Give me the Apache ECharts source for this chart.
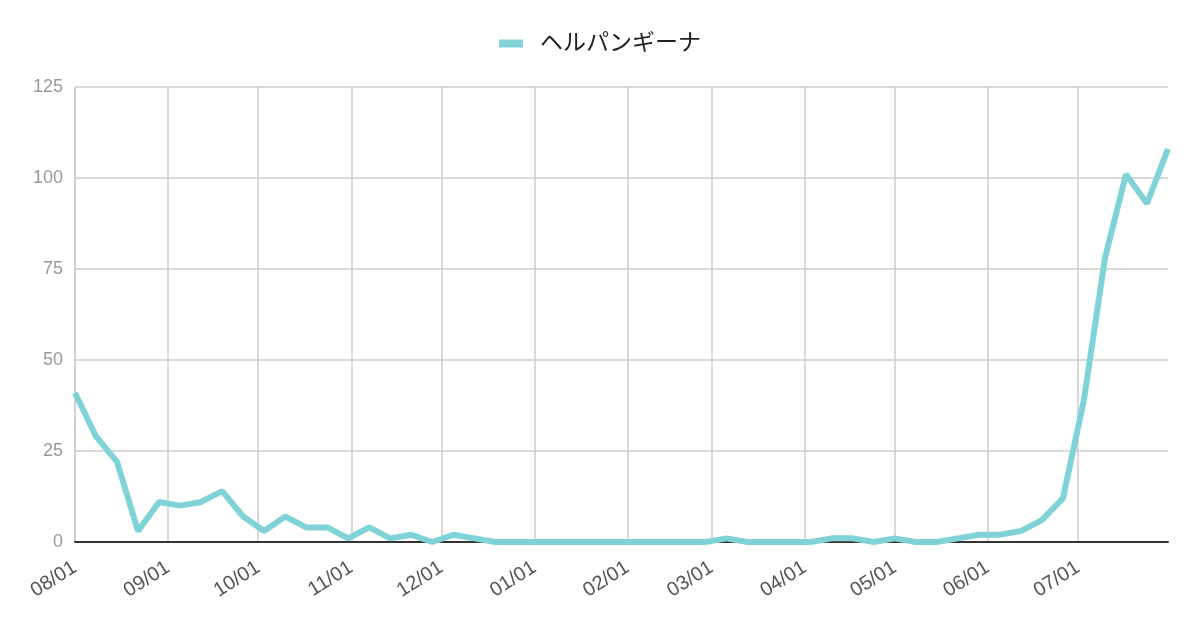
<!DOCTYPE html>
<html>
<head>
<meta charset="utf-8">
<script src="https://cdn.jsdelivr.net/npm/echarts@6/dist/echarts.min.js"></script>
<style>
  html, body { margin: 0; padding: 0; background: #fff; }
  #chart { width: 1200px; height: 626px; }
</style>
</head>
<body>
<div id="chart"></div>
<script>
// Données hebdomadaires (une valeur par semaine à partir du 01/08)
const seriesName = 'ヘルパンギーナ';
const startDate = '2022-08-01';
const weekly = [
  41, 29, 22, 3, 11, 10, 11, 14, 7, 3,
  7, 4, 4, 1, 4, 1, 2, 0, 2, 1,
  0, 0, 0, 0, 0, 0, 0, 0, 0, 0,
  0, 1, 0, 0, 0, 0, 1, 1, 0, 1,
  0, 0, 1, 2, 2, 3, 6, 12, 39, 78,
  101, 93, 108
];
const yTicks = [0, 25, 50, 75, 100, 125];

const DAY = 86400000;
const t0 = new Date(startDate + 'T00:00:00').getTime();
const points = weekly.map((v, i) => [t0 + i * 7 * DAY, v]);

const font = '"Liberation Sans", "Noto Sans CJK JP", sans-serif';
const chart = echarts.init(document.getElementById('chart'), null, { renderer: 'canvas' });

const option = {
  animation: false,
  legend: {
    top: 27,
    left: 'center',
    itemWidth: 24,
    itemHeight: 8,
    icon: 'rect',
    itemGap: 10,
    textStyle: { fontSize: 23, color: '#222', fontFamily: font, padding: [0, 0, 0, 12] },
    data: [seriesName]
  },
  grid: { left: 75, right: 32, top: 87, bottom: 84 },
  xAxis: {
    type: 'time',
    min: t0,
    max: points[points.length - 1][0],
    minInterval: 28 * DAY,
    maxInterval: 31 * DAY,
    axisLine: { lineStyle: { color: '#333', width: 2 } },
    axisTick: { show: false },
    splitLine: { show: true, showMaxLine: false, lineStyle: { color: '#ccc', width: 1.5 } },
    axisLabel: {
      rotate: 32,
      margin: 24,
      fontSize: 20,
      color: '#555',
      fontFamily: font,
      showMaxLabel: false,
      formatter: v => echarts.time.format(v, '{MM}/{dd}', false)
    }
  },
  yAxis: {
    type: 'value',
    min: yTicks[0],
    max: yTicks[yTicks.length - 1],
    interval: 25,
    axisLine: { show: false },
    axisTick: { show: false },
    splitLine: { lineStyle: { color: '#ccc', width: 1.5 } },
    axisLabel: { fontSize: 18, color: '#999', margin: 12, fontFamily: font }
  },
  series: [
    {
      name: seriesName,
      type: 'line',
      data: points,
      showSymbol: false,
      symbol: 'none',
      color: '#7fd3d7',
      lineStyle: { width: 6, color: '#7fd3d7' },
      z: 1
    }
  ]
};

chart.setOption(option);
window.addEventListener('resize', () => chart.resize());
</script>
</body>
</html>
